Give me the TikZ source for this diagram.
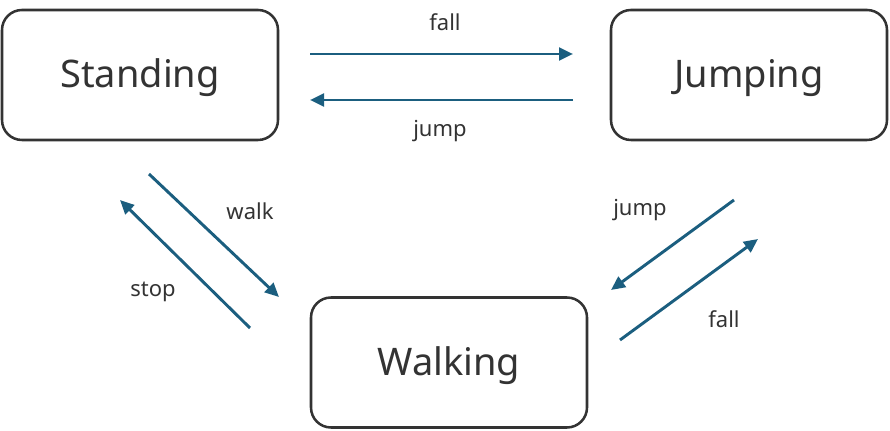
\documentclass[tikz,border=0pt]{standalone}
\usepackage{fontspec}
\setmainfont{Noto Sans}
\usetikzlibrary{arrows.meta}
\definecolor{boxline}{HTML}{333333}
\definecolor{arrowc}{HTML}{1B5E7F}
\definecolor{txt}{HTML}{333333}
\begin{document}
\begin{tikzpicture}[x=0.75pt,y=-0.75pt,
  state/.style={draw=boxline,line width=1.9pt,rounded corners=15pt,minimum width=276*0.75pt,minimum height=130*0.75pt,inner sep=0pt,font=\fontsize{28.5}{32}\selectfont,text=txt},
  stxt/.style={font=\fontsize{28.5}{32}\selectfont,text=txt,inner sep=0pt,anchor=base},
  conn/.style={draw=arrowc,line width=2.2pt,-{Triangle[length=10.5pt,width=9.5pt]}},
  lbl/.style={font=\fontsize{16.5}{19}\selectfont,text=txt,inner sep=0pt}]
\useasboundingbox (0,0) rectangle (890,431);
\node[state] (standing) at (140,75) {};
\node[state] (jumping) at (749,75) {};
\node[state] (walking) at (449,362.5) {};
\node[stxt] (tstanding) at (140,88) {Standing};
\node[stxt] (tjumping) at (749,88) {Jumping};
\node[stxt] (twalking) at (449,376) {Walking};
\coordinate (a1) at (310,54); \coordinate (a2) at (573,54);
\coordinate (b1) at (573,100); \coordinate (b2) at (310,100);
\coordinate (c1) at (149,174); \coordinate (c2) at (279,297);
\coordinate (d1) at (250,328); \coordinate (d2) at (120,200);
\coordinate (e1) at (734,200); \coordinate (e2) at (611,290);
\coordinate (f1) at (620,340); \coordinate (f2) at (758,239);
\draw[conn] (a1) -- (a2);
\draw[conn] (b1) -- (b2);
\draw[conn] (c1) -- (c2);
\draw[conn] (d1) -- (d2);
\draw[conn] (e1) -- (e2);
\draw[conn] (f1) -- (f2);
\node[lbl] (lfall1) at (445,22) {fall};
\node[lbl] (ljump1) at (440,131) {jump};
\node[lbl] (lwalk) at (250,211) {walk};
\node[lbl] (lstop) at (153,292) {stop};
\node[lbl] (ljump2) at (640,210) {jump};
\node[lbl] (lfall2) at (724,319) {fall};
\end{tikzpicture}
\end{document}
